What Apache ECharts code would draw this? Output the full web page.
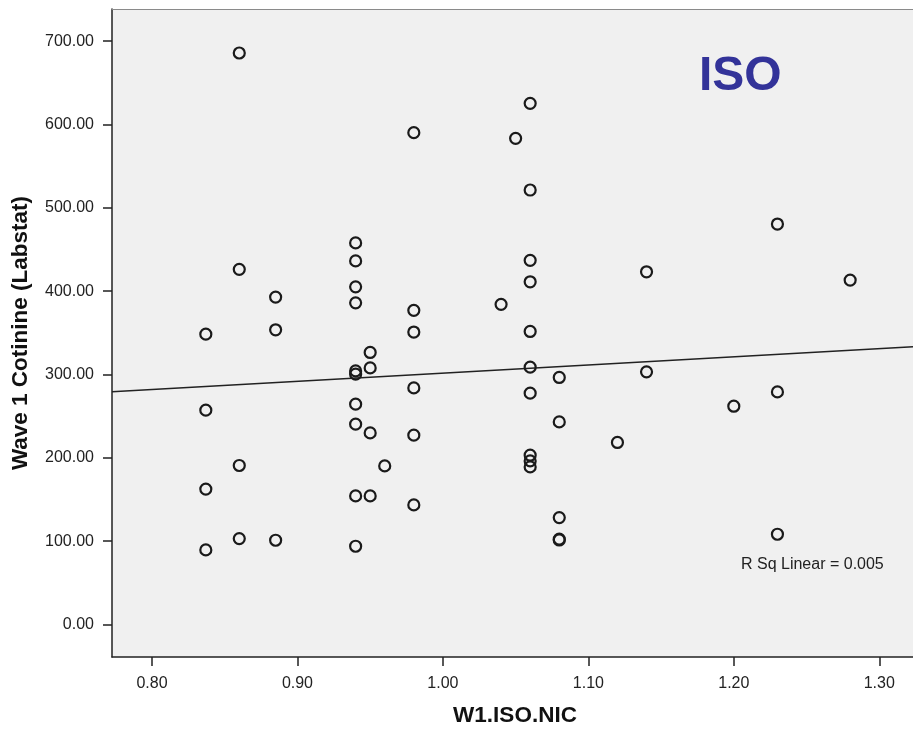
<!DOCTYPE html>
<html><head><meta charset="utf-8">
<script src="https://cdn.jsdelivr.net/npm/echarts@6/dist/echarts.min.js"></script>
<style>html,body{margin:0;padding:0;background:#fff}#c{width:913px;height:734px}</style>
</head><body><div id="c"></div>
<script>
// W1.ISO.NIC values (x) and Wave 1 Cotinine (Labstat) values (y)
const isoNic = [
  0.837, 0.837, 0.837, 0.837,
  0.86, 0.86, 0.86, 0.86,
  0.885, 0.885, 0.885,
  0.94, 0.94, 0.94, 0.94, 0.94, 0.94, 0.94, 0.94, 0.94, 0.94,
  0.95, 0.95, 0.95, 0.95,
  0.96,
  0.98, 0.98, 0.98, 0.98, 0.98, 0.98,
  1.04,
  1.05,
  1.06, 1.06, 1.06, 1.06, 1.06, 1.06, 1.06, 1.06, 1.06, 1.06,
  1.08, 1.08, 1.08, 1.08, 1.08,
  1.12,
  1.14, 1.14,
  1.20,
  1.23, 1.23, 1.23,
  1.28
];
const cotinine = [
  348.5, 257.3, 162.6, 89.6,
  685.8, 426.2, 190.9, 103.2,
  392.9, 353.7, 101.2,
  457.9, 436.3, 405.2, 386.0, 304.4, 300.5, 264.5, 240.5, 154.4, 94.0,
  326.5, 308.0, 230.0, 154.4,
  190.4,
  590.2, 377.0, 351.0, 284.0, 227.3, 143.6,
  384.2,
  583.4,
  625.4, 521.4, 437.0, 411.3, 351.7, 308.9, 277.7, 203.2, 196.4, 189.2,
  296.5, 243.2, 128.4, 102.5, 101.5,
  218.5,
  423.3, 303.3,
  262.0,
  480.6, 279.2, 108.4,
  413.3
];
const xTicks = [0.8, 0.9, 1.0, 1.1, 1.2, 1.3];
const yTicks = [0, 100, 200, 300, 400, 500, 600, 700];
// linear fit line endpoints
const fitX = [0.7725, 1.3232];
const fitY = [279.5, 333.3];
const xRange = [0.7725, 1.3232];
const yRange = [-38.9, 738.6];
const panelLabel = 'ISO';
const rSqLabel = 'R Sq Linear = 0.005';

const points = isoNic.map((x, i) => [x, cotinine[i]]);
const fitLine = fitX.map((x, i) => [x, fitY[i]]);
const FONT = '"Liberation Sans", Arial, sans-serif';

const chart = echarts.init(document.getElementById('c'), null, {renderer: 'canvas'});
chart.setOption({
  animation: false,
  backgroundColor: '#ffffff',
  grid: {left: 112, top: 9, right: 0, bottom: 77, show: true,
         backgroundColor: '#f0f0f0', borderWidth: 0},
  xAxis: [{
    type: 'value', min: xRange[0], max: xRange[1],
    name: 'W1.ISO.NIC', nameLocation: 'middle', nameGap: 47,
    nameTextStyle: {fontSize: 22.5, fontWeight: 'bold', color: '#111', fontFamily: FONT,
                    padding: [0, 0, 0, 5]},
    axisLine: {show: true, onZero: false, lineStyle: {color: '#222', width: 1.5}},
    axisTick: {show: true, length: 9, customValues: xTicks, lineStyle: {color: '#222', width: 1.5}},
    axisLabel: {customValues: xTicks, formatter: v => v.toFixed(2), fontSize: 16,
                color: '#222', margin: 19, fontFamily: FONT},
    splitLine: {show: false}
  }, {
    type: 'value', position: 'top', min: xRange[0], max: xRange[1],
    axisLine: {show: true, onZero: false, lineStyle: {color: '#8a8a8a', width: 1.2}},
    axisTick: {show: false}, axisLabel: {show: false}, splitLine: {show: false}
  }],
  yAxis: {
    type: 'value', min: yRange[0], max: yRange[1],
    name: 'Wave 1 Cotinine (Labstat)', nameLocation: 'middle', nameGap: 80, nameRotate: 90,
    nameTextStyle: {fontSize: 22.5, fontWeight: 'bold', color: '#111', fontFamily: FONT},
    axisLine: {show: true, onZero: false, lineStyle: {color: '#222', width: 1.5}},
    axisTick: {show: true, length: 9, customValues: yTicks, lineStyle: {color: '#222', width: 1.5}},
    axisLabel: {customValues: yTicks, formatter: v => v.toFixed(2), fontSize: 16,
                color: '#222', margin: 18, fontFamily: FONT},
    splitLine: {show: false}
  },
  series: [
    {type: 'line', data: fitLine, symbol: 'none', silent: true,
     lineStyle: {color: '#222', width: 1.5}, z: 2},
    {type: 'scatter', data: points, symbol: 'circle', symbolSize: 11,
     itemStyle: {color: 'rgba(0,0,0,0)', borderColor: '#1a1a1a', borderWidth: 2.2, opacity: 1}, z: 3}
  ],
  graphic: [
    {type: 'text', z: 10, style: {x: 699, y: 77, text: panelLabel, verticalAlign: 'middle',
      font: 'bold 48px ' + FONT, fill: '#333399'}},
    {type: 'text', z: 10, style: {x: 741, y: 565, text: rSqLabel, verticalAlign: 'middle',
      font: '16px ' + FONT, fill: '#222'}}
  ]
});
</script>
</body></html>
